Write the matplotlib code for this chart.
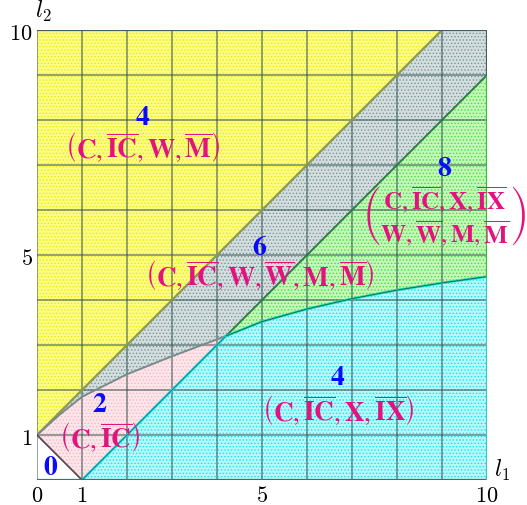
import matplotlib
matplotlib.use("Agg")
import matplotlib.pyplot as plt
import numpy as np

plt.rcParams['mathtext.fontset'] = 'cm'
plt.rcParams['font.family'] = ['DejaVu Serif']
plt.rcParams['hatch.linewidth'] = 0.6

# boundary curves of the (l1, l2) plane
junction = (4.2, 3.2)
upper_l1 = [0, 0.5, 1, 2, 3, 4.2]
upper_l2 = [1, 1.45, 1.85, 2.35, 2.75, 3.2]
lower_l1 = [4.2, 5, 6, 7, 8, 9, 10]
lower_l2 = [3.2, 3.52, 3.8, 4.03, 4.22, 4.38, 4.52]

xticks = [0, 1, 5, 10]
yticks = [1, 5, 10]

# region labels: (l1, number l2, tuple l2, count, tuple text)
regions = [
    (2.35, 8.07, 7.42, '4', r'$\left(\mathbf{C},\overline{\mathbf{IC}},\mathbf{W},\overline{\mathbf{M}}\right)$'),
    (4.95, 5.2, 4.58, '6', r'$\left(\mathbf{C},\overline{\mathbf{IC}},\mathbf{W},\overline{\mathbf{W}},\mathbf{M},\overline{\mathbf{M}}\right)$'),
    (6.69, 2.31, 1.58, '4', r'$\left(\mathbf{C},\overline{\mathbf{IC}},\mathbf{X},\overline{\mathbf{IX}}\right)$'),
    (1.4, 1.69, 0.98, '2', r'$\left(\mathbf{C},\overline{\mathbf{IC}}\right)$'),
]
big_label = (9.05, 6.95, 5.88, '8',
             r'$\genfrac{(}{)}{0}{0}{\mathbf{C},\overline{\mathbf{IC}},\mathbf{X},\overline{\mathbf{IX}}}'
             r'{\mathbf{W},\overline{\mathbf{W}},\mathbf{M},\overline{\mathbf{M}}}$')

fig = plt.figure(figsize=(5.27, 5.06), dpi=100)
ax = fig.add_axes([0.0702, 0.0494, 0.8539, 0.8893])

def patch(xs, ys, face, dots):
    ax.fill(xs, ys, facecolor=face, edgecolor=dots, hatch='.....', linewidth=0, zorder=1)

# yellow: above l2 = l1 + 1
patch([0, 9, 0], [1, 10, 10], '#fbfb88', '#eeee00')
# grey band between l2 = l1 + 1 and l2 = l1 - 1
gx = [0, 9, 10, 10] + upper_l1[::-1]
gy = [1, 10, 10, 9] + upper_l2[::-1]
patch(gx, gy, '#d4dedf', '#7a9496')
# pink wedge
patch(upper_l1 + [1], upper_l2 + [0], '#fde6ea', '#f4b8c4')
# green wedge
patch([junction[0], 10] + lower_l1[::-1], [junction[1], 9] + lower_l2[::-1], '#c4f7b8', '#44e044')
# cyan region
patch([1, 10] + lower_l1[::-1], [0, 0] + lower_l2[::-1], '#b8f8fb', '#10e6ee')
# empty corner
ax.fill([0, 1, 0], [0, 0, 1], facecolor='white', linewidth=0, zorder=1)

# grid
for v in range(11):
    ax.axvline(v, color='#2f4f4f', alpha=0.6, lw=1.2, zorder=2)
    ax.axhline(v, color='#2f4f4f', alpha=0.6, lw=1.2, zorder=2)

# boundaries
ax.plot([0, 9], [1, 10], color='#8c9a50', lw=1.6, zorder=3)
ax.plot([junction[0], 10], [junction[1], 9], color='#2f7a4a', lw=1.4, zorder=3)
ax.plot(upper_l1, upper_l2, color='#7a8a8c', lw=1.4, zorder=3)
ax.plot([1, junction[0]], [0, junction[1]], color='#18d8dc', lw=1.8, zorder=3)
ax.plot([1, junction[0]], [0, junction[1]], color='#305050', lw=0.4, zorder=3)
ax.plot(lower_l1, lower_l2, color='#10d8b0', lw=1.8, zorder=3)
ax.plot(lower_l1, lower_l2, color='#203030', lw=0.4, zorder=3)
ax.plot([0, 1], [1, 0], color='#5a4a4e', lw=1.3, zorder=3)
ax.plot([0, 10], [10, 10], color='#3f5f5f', lw=1.6, zorder=3)
ax.plot([0, 10], [0, 0], color='#3f6f6f', lw=1.6, zorder=3)
ax.plot([10, 10], [0, 4.52], color='#30c8c8', lw=1.6, zorder=3)
ax.plot([10, 10], [4.52, 9], color='#30c030', lw=1.6, zorder=3)
ax.plot([10, 10], [9, 10], color='#3f5f5f', lw=1.6, zorder=3)

blue = '#0a0aff'
pink = '#e3127f'
for x, yn, yt, n, txt in regions:
    ax.text(x, yn, r'$\mathbf{%s}$' % n, color=blue, fontsize=20, ha='center', va='center',
            math_fontfamily='stix', zorder=5)
    ax.text(x, yt, txt, color=pink, fontsize=19.5, ha='center', va='center',
            math_fontfamily='stix', zorder=5)
x, yn, yt, n, txt = big_label
ax.text(x, yn, r'$\mathbf{%s}$' % n, color=blue, fontsize=20, ha='center', va='center',
        math_fontfamily='stix', zorder=5)
ax.text(x, yt, txt, color=pink, fontsize=18, ha='center', va='center',
        math_fontfamily='stix', zorder=5)
ax.text(0.3, 0.31, r'$\mathbf{0}$', color=blue, fontsize=20, ha='center', va='center',
        math_fontfamily='stix', zorder=5)

ax.set_xlim(0, 10)
ax.set_ylim(0, 10)
ax.set_xticks(xticks)
ax.set_xticklabels(['$%d$' % t for t in xticks], fontsize=16)
ax.set_yticks(yticks)
ax.set_yticklabels(['$%d$' % t for t in yticks], fontsize=16)
ax.tick_params(length=0, pad=3)
for s in ax.spines.values():
    s.set_visible(False)

ax.text(10.15, -0.05, '$l_1$', fontsize=17, ha='left', va='bottom')
ax.text(-0.05, 10.15, '$l_2$', fontsize=17, ha='left', va='bottom')

fig.savefig('out.png', dpi=100)
